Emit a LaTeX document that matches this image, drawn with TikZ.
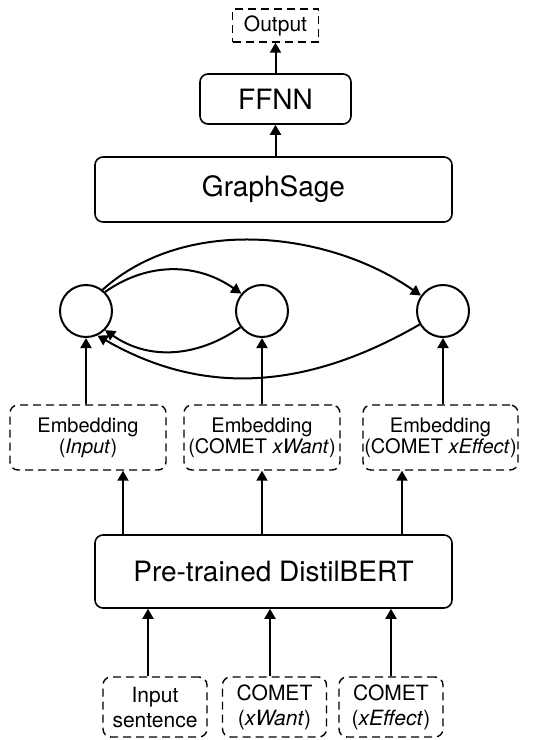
\documentclass[tikz,border=0pt]{standalone}
\usepackage{fontspec}
\setmainfont{TeX Gyre Heros}
\usetikzlibrary{shapes,arrows,arrows.meta}
\usetikzlibrary{calc}

\begin{document}
\begin{tikzpicture}[x=0.5pt,y=0.5pt]
\tikzstyle{block}=[draw,rectangle,rounded corners=4,fill=white,line width=0.8pt,inner sep=0pt,font=\fontsize{14}{16}\selectfont]
\tikzstyle{embed}=[draw,rectangle,rounded corners=4,dash pattern=on 4pt off 2.5pt,line width=0.7pt,inner sep=0pt,align=center,font=\fontsize{10}{10.5}\selectfont]
\tikzstyle{source}=[embed,minimum width=52pt,minimum height=30pt,font=\fontsize{10.5}{12.5}\selectfont]
\tikzstyle{vertex}=[draw,circle,line width=1pt,inner sep=0pt,minimum size=26pt]
\tikzstyle{link}=[draw,line width=1pt,-{Triangle[length=5pt,width=5.5pt]}]
\useasboundingbox (0,0) rectangle (545,-740);
% top of the model
\node[embed,rounded corners=0,minimum width=43pt,minimum height=16.5pt,font=\fontsize{10.5}{12}\selectfont] (output) at (275.5,-25.5) {Output};
\node[block,minimum width=75.5pt,minimum height=25pt] (ffnn) at (275.5,-99) {FFNN};
\node[block,minimum width=178.5pt,minimum height=32.5pt] (sage) at (273.5,-189.5) {GraphSage};
% graph
\node[vertex] (input) at (86,-311) {};
\node[vertex] (xwant) at (262,-311) {};
\node[vertex] (xeffect) at (443,-311) {};
% embeddings
\node[embed,minimum width=78pt,minimum height=32.5pt] (emb_input) at (88,-437.5) {Embedding\\(\textit{Input})};
\node[embed,minimum width=78pt,minimum height=32.5pt] (emb_xwant) at (262,-437.5) {Embedding\\(COMET \textit{xWant})};
\node[embed,minimum width=77.5pt,minimum height=32.5pt] (emb_xeffect) at (440.5,-437.5) {Embedding\\(COMET \textit{xEffect})};
\node[block,minimum width=178.5pt,minimum height=36.5pt] (bert) at (273.5,-571.5) {Pre-trained DistilBERT};
% inputs
\node[source] (sent) at (155,-707) {Input\\sentence};
\node[source] (comet_xwant) at (274.5,-707) {COMET\\(\textit{xWant})};
\node[source] (comet_xeffect) at (391,-707) {COMET\\(\textit{xEffect})};
% connectors
\draw[link] (sage.north -| ffnn) -- (ffnn);
\draw[link] (ffnn) -- (output);
\draw[link] (input.45) to[out=35,in=145] (xwant.140);
\draw[link] (input.52) to[out=42,in=145,looseness=0.9] (xeffect.145);
\draw[link] (xwant.217) to[out=215,in=-35] (input.-45);
\draw[link] (xeffect.210) to[out=210,in=-30] (input.-65);
\draw[link] (input |- emb_input.north) -- (input);
\draw[link] (xwant |- emb_xwant.north) -- (xwant);
\draw[link] (xeffect |- emb_xeffect.north) -- (xeffect);
\draw[link] (bert.north -| 123,0) -- (emb_input.south -| 123,0);
\draw[link] (bert.north -| emb_xwant) -- (emb_xwant);
\draw[link] (bert.north -| 402,0) -- (emb_xeffect.south -| 402,0);
\draw[link] (sent.north -| 148,0) -- (bert.south -| 148,0);
\draw[link] (comet_xwant.north -| 270,0) -- (bert.south -| 270,0);
\draw[link] (comet_xeffect) -- (bert.south -| comet_xeffect);
\end{tikzpicture}
\end{document}
